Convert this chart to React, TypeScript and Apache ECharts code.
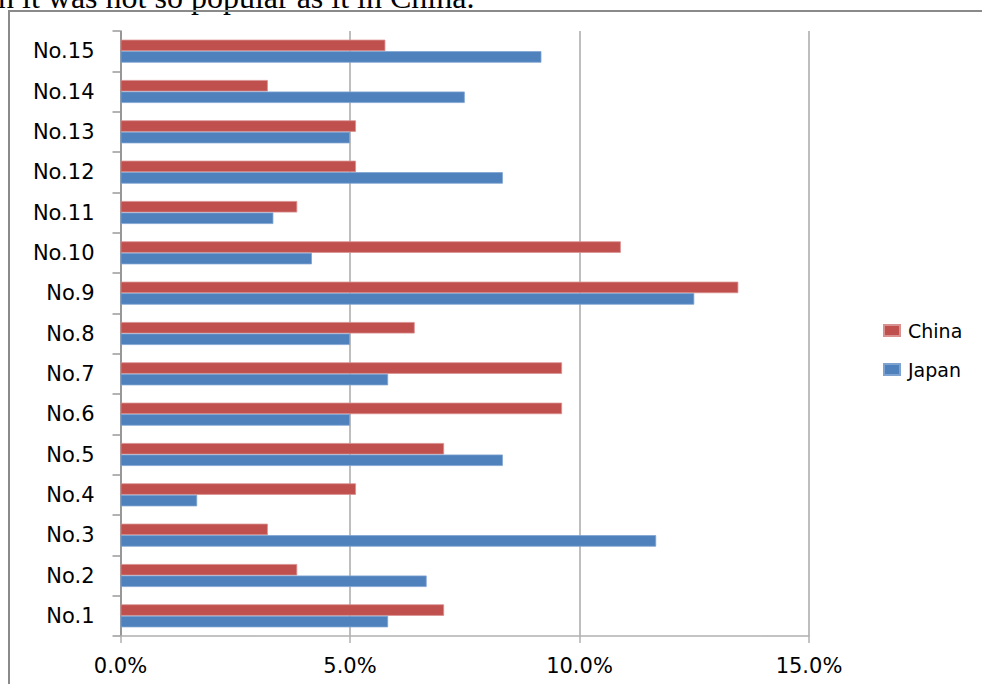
import React, { useEffect, useRef } from "react";
import * as echarts from "echarts";

const categories = ["No.1", "No.2", "No.3", "No.4", "No.5", "No.6", "No.7", "No.8", "No.9", "No.10", "No.11", "No.12", "No.13", "No.14", "No.15"];
const japan = [5.83, 6.67, 11.67, 1.67, 8.33, 5.0, 5.83, 5.0, 12.5, 4.17, 3.33, 8.33, 5.0, 7.5, 9.17];
const china = [7.05, 3.85, 3.21, 5.13, 7.05, 9.62, 9.62, 6.41, 13.46, 10.9, 3.85, 5.13, 5.13, 3.21, 5.77];
const xTicks = { min: 0, max: 15, interval: 5 };
const caption = "n it was not so popular as it in China.";

export default function App() {
  const ref = useRef<HTMLDivElement>(null);
  useEffect(() => {
    if (!ref.current) return;
    const chart = echarts.init(ref.current, null, { renderer: "svg" });
    const font = "'DejaVu Sans', Verdana, sans-serif";
    chart.setOption({
      animation: false,
      backgroundColor: "#ffffff",
      textStyle: { fontFamily: font },
      graphic: [
        {
          type: "text",
          x: -2,
          y: -19.5,
          style: {
            text: caption,
            font: "32px 'Liberation Serif', 'Times New Roman', serif",
            fill: "#000",
            textVerticalAlign: "top",
          },
          silent: true,
        },
        {
          type: "rect",
          shape: { x: 9, y: 11, width: 1000, height: 700 },
          style: { fill: "none", stroke: "#8a8a8a", lineWidth: 2 },
          silent: true,
        },
      ],
      legend: {
        orient: "vertical",
        left: 883,
        top: 321,
        itemWidth: 16,
        itemHeight: 11,
        itemGap: 20,
        padding: 0,
        icon: "rect",
        data: ["China", "Japan"],
        textStyle: { fontFamily: font, fontSize: 19, color: "#000", padding: [0, 0, 0, 3] },
      },
      grid: { left: 120.5, right: 173, top: 31, bottom: 48, containLabel: false },
      xAxis: {
        type: "value",
        min: xTicks.min,
        max: xTicks.max,
        interval: xTicks.interval,
        axisLine: { show: true, lineStyle: { color: "#b0b0b0", width: 1.5 } },
        axisTick: { show: true, length: 7, lineStyle: { color: "#b0b0b0", width: 1.5 } },
        splitLine: { show: true, lineStyle: { color: "#a8a8a8", width: 1.5 } },
        axisLabel: {
          formatter: (v: number) => v.toFixed(1) + "%",
          fontFamily: font,
          fontSize: 21,
          color: "#000",
          margin: 19,
        },
      },
      yAxis: {
        type: "category",
        data: categories,
        axisLine: { show: true, lineStyle: { color: "#8a8a8a", width: 1.5 } },
        axisTick: { show: true, length: 8, alignWithLabel: false, lineStyle: { color: "#9a9a9a", width: 1.5 } },
        splitLine: { show: false },
        axisLabel: { fontFamily: font, fontSize: 21, color: "#000", margin: 26 },
      },
      series: [
        {
          name: "China",
          type: "bar",
          data: china,
          barWidth: 11.5,
          barGap: "0%",
          itemStyle: { color: "#C0504D", borderColor: "#D8918F", borderWidth: 0.8 },
        },
        {
          name: "Japan",
          type: "bar",
          data: japan,
          barWidth: 11.5,
          barGap: "0%",
          itemStyle: { color: "#4F81BD", borderColor: "#7FA3D0", borderWidth: 0.8 },
        },
      ],
    });
    return () => chart.dispose();
  }, []);
  return (
    <div
      ref={ref}
      style={{ position: "fixed", left: 0, top: 0, width: 982, height: 684, background: "#fff" }}
    />
  );
}
